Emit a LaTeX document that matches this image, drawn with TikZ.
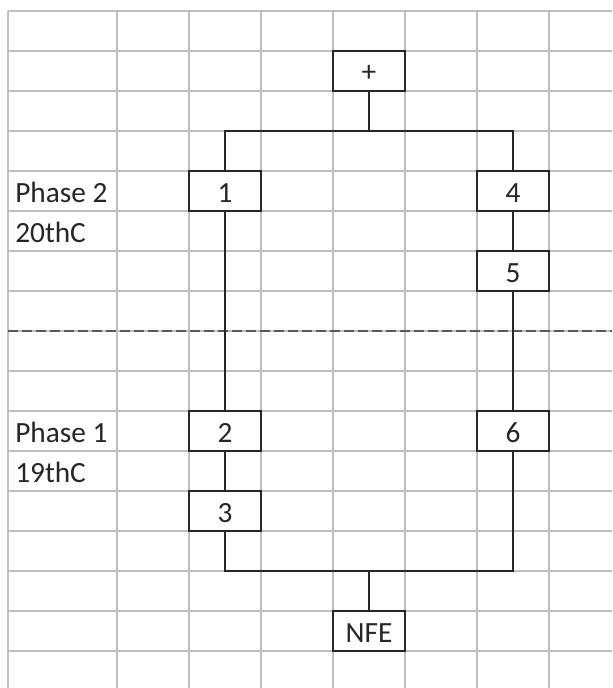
\documentclass[tikz,border=0pt]{standalone}
\usepackage{fontspec}
\setmainfont{Carlito}
\usetikzlibrary{positioning}

\begin{document}
\begin{tikzpicture}[x=0.75pt,y=-0.75pt,
 cell/.style={draw=black!25,line width=0.8pt},
 box/.style={draw=black!85,line width=1.1pt,fill=white,minimum width=54pt,minimum height=30pt,
             inner sep=0pt,outer sep=0pt,text height=18.5pt,text depth=2pt,
             font=\fontsize{22}{25}\selectfont,text=black!85},
 phase/.style={anchor=base west,inner sep=0pt,font=\fontsize{22}{25}\selectfont,text=black!85},
 link/.style={draw=black!85,line width=1.1pt},
 divide/.style={draw=black!65,line width=0.9pt,dash pattern=on 7.5pt off 3pt}]
\useasboundingbox (0,0) rectangle (612,688);
\fill[white] (0,0) rectangle (612,688);
\foreach \x in {8,117,189,261,333,405,477,549}
  \draw[cell] (\x,11) -- (\x,688);
\foreach \y in {11,51,...,651}
  \draw[cell] (8,\y) -- (612,\y);
\node[phase] (phasetwo) at (15,202) {Phase 2};
\node[phase] (centtwenty) at (15,242) {20thC};
\node[phase] (phaseone) at (15,442) {Phase 1};
\node[phase] (centnineteen) at (15,482) {19thC};
\coordinate (dashleft) at (8,331);
\coordinate (dashright) at (612,331);
\draw[divide] (dashleft) -- (dashright);
\node[box] (plus) at (369,71) {+};
\node[box] (one) at (225,191) {1};
\node[box] (four) at (513,191) {4};
\node[box] (five) at (513,271) {5};
\node[box] (two) at (225,431) {2};
\node[box] (six) at (513,431) {6};
\node[box] (three) at (225,511) {3};
\node[box] (nfe) at (369,631) {NFE};
\coordinate (split) at (369,131);
\coordinate (join) at (369,571);
\draw[link] (plus.south) -- (split);
\draw[link] (one.north) |- (split);
\draw[link] (four.north) |- (split);
\draw[link] (one) -- (two);
\draw[link] (two) -- (three);
\draw[link] (four) -- (five);
\draw[link] (five) -- (six);
\draw[link] (three.south) |- (join);
\draw[link] (six.south) |- (join);
\draw[link] (nfe.north) -- (join);
\end{tikzpicture}
\end{document}
